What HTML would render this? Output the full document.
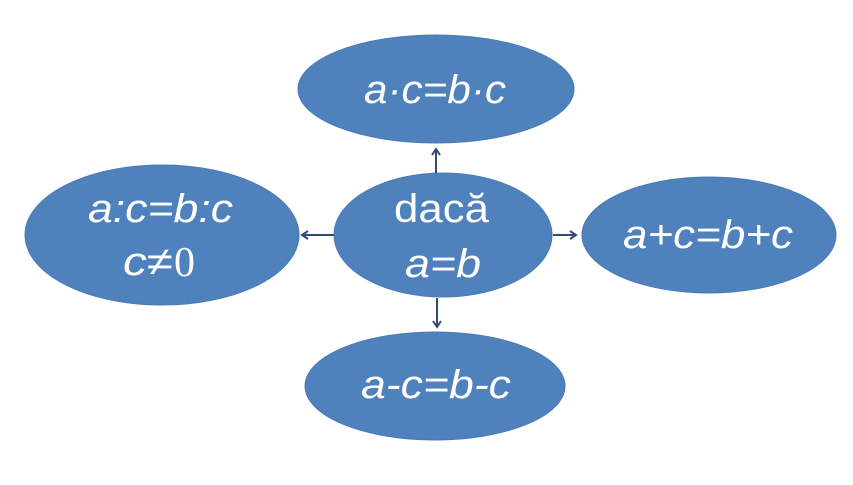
<!DOCTYPE html>
<html><head><style>body{margin:0;background:#fff}</style></head><body>
<svg width="853" height="480" xmlns="http://www.w3.org/2000/svg">
<defs><marker id="a" markerWidth="10" markerHeight="10" refX="8" refY="5" orient="auto" markerUnits="userSpaceOnUse"><path d="M2,1 L8,5 L2,9" fill="none" stroke="#2C4D75" stroke-width="2"/></marker></defs>
<g fill="#4F81BD" stroke="#4A7AB5" stroke-width="1">
<ellipse cx="436" cy="89" rx="138" ry="54"/>
<ellipse cx="162" cy="235" rx="137" ry="70"/>
<ellipse cx="443" cy="235" rx="109" ry="62"/>
<ellipse cx="709" cy="235" rx="127" ry="58"/>
<ellipse cx="435" cy="386" rx="130" ry="54"/>
</g>
<g stroke="#2C4D75" stroke-width="2" marker-end="url(#a)">
<line x1="436" y1="173" x2="436" y2="149"/>
<line x1="334" y1="235" x2="302" y2="235"/>
<line x1="553" y1="235" x2="576" y2="235"/>
<line x1="437" y1="298" x2="437" y2="327"/>
</g>
<g fill="#fff" font-family="Liberation Sans, sans-serif" font-size="40" font-style="italic">
<text x="364" y="103" textLength="142" lengthAdjust="spacingAndGlyphs">a·c=b·c</text>
<text x="88" y="222" textLength="145" lengthAdjust="spacingAndGlyphs">a:c=b:c</text>
<text x="123" y="275" textLength="50" lengthAdjust="spacingAndGlyphs">c≠</text>
<text x="174" y="276" font-family="Liberation Serif, serif" font-style="normal" font-size="42">0</text>
<text x="394" y="222" textLength="95" lengthAdjust="spacingAndGlyphs" font-style="normal">dacă</text>
<text x="405" y="277" textLength="76" lengthAdjust="spacingAndGlyphs">a=b</text>
<text x="623" y="248" textLength="170" lengthAdjust="spacingAndGlyphs">a+c=b+c</text>
<text x="361" y="398" textLength="150" lengthAdjust="spacingAndGlyphs">a-c=b-c</text>
</g>
</svg>
</body></html>
